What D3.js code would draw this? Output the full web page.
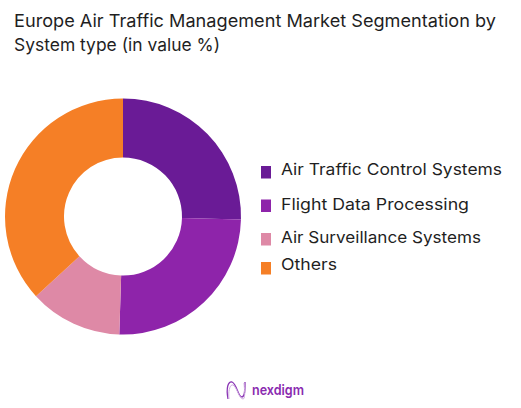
<!DOCTYPE html>
<html><head><meta charset="utf-8">
<script src="https://cdn.jsdelivr.net/npm/d3@7"></script>
<style>html,body{margin:0;background:#fff}svg{display:block}text{font-family:Inter,"Open Sans",sans-serif}</style>
</head><body><svg id="c" width="521" height="408"></svg>
<script>
const categories=["Air Traffic Control Systems","Flight Data Processing","Air Surveillance Systems","Others"];
const values=[25.4,25.1,12.7,36.8];
const colors=["#6a1b96","#8e24aa","#de89a6","#f57f26"];
const titleLines=["Europe Air Traffic Management Market Segmentation by","System type (in value %)"];
const legendTop=[166,199.5,233,262];
const legendBase=[174.5,210,242.5,269.5];

const svg=d3.select("#c");
const dark="#1f1f1f";
svg.selectAll("text.t").data(titleLines).join("text").attr("class","t")
 .attr("x",14).attr("y",(d,i)=>[27,50.5][i]).attr("font-size",17.5).attr("fill",dark)
 .attr("textLength",(d,i)=>[482,206][i]).attr("lengthAdjust","spacingAndGlyphs").text(d=>d);

const pie=d3.pie().sort(null)(values);
const arc=d3.arc().innerRadius(59).outerRadius(118);
svg.append("g").attr("transform","translate(123,216.5)")
 .selectAll("path").data(pie).join("path").attr("d",arc).attr("fill",(d,i)=>colors[i]);

const lg=svg.append("g");
lg.selectAll("rect").data(categories).join("rect")
 .attr("x",261).attr("y",(d,i)=>legendTop[i]).attr("width",10).attr("height",12.5).attr("fill",(d,i)=>colors[i]);
lg.selectAll("text").data(categories).join("text")
 .attr("x",281).attr("y",(d,i)=>legendBase[i]).attr("font-size",16).attr("fill",dark)
 .attr("textLength",(d,i)=>[221,188,200,56][i]).attr("lengthAdjust","spacingAndGlyphs").text(d=>d);

// logo
const logo=svg.append("g").attr("fill","none");
logo.append("path").attr("d","M228 399C226 388 228 381 232 382C237 384 238 397 242 397C245 397 245 390 245 382").attr("stroke","#8a35b5").attr("stroke-width",1.3);
logo.append("path").attr("d","M229 399C228 391 230 384 233 385C237 387 239 399 243 399C245 399 245 393 244 383").attr("stroke","#cfa9e0").attr("stroke-width",1);
svg.append("text").attr("x",252).attr("y",395).attr("font-size",14.5).attr("font-weight",600).attr("fill","#8a2bb0")
 .attr("textLength",52).attr("lengthAdjust","spacingAndGlyphs").text("nexdigm");
</script></body></html>
